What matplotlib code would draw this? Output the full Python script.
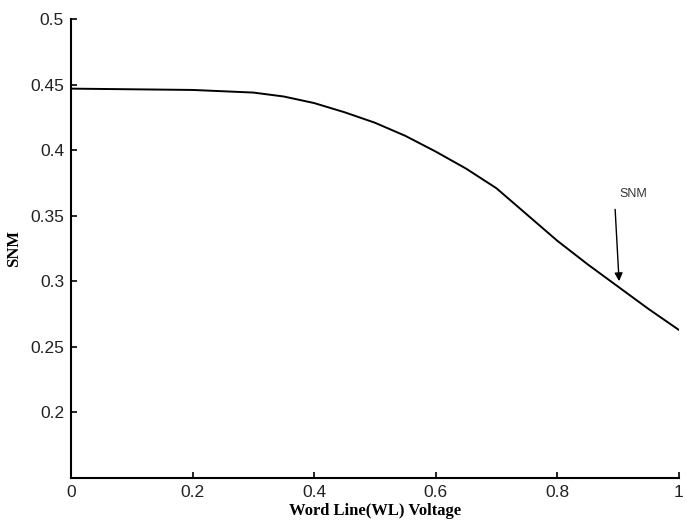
import matplotlib
matplotlib.use("Agg")
import matplotlib.pyplot as plt

# values
wl_voltage = [0.0, 0.1, 0.2, 0.3, 0.35, 0.4, 0.45, 0.5, 0.55, 0.6, 0.65, 0.7, 0.75, 0.8, 0.85, 0.9, 0.95, 1.0]
snm = [0.447, 0.4465, 0.446, 0.444, 0.441, 0.436, 0.429, 0.421, 0.411, 0.399, 0.386, 0.371,
       0.351, 0.331, 0.313, 0.296, 0.279, 0.263]

x_ticks = [0, 0.2, 0.4, 0.6, 0.8, 1.0]
x_tick_labels = ["0", "0.2", "0.4", "0.6", "0.8", "1"]
y_ticks = [0.2, 0.25, 0.3, 0.35, 0.4, 0.45, 0.5]
y_tick_labels = ["0.2", "0.25", "0.3", "0.35", "0.4", "0.45", "0.5"]

fig = plt.figure(figsize=(6.86, 5.32), dpi=100)
ax = fig.add_axes([0.1035, 0.1015, 0.886, 0.8625])

ax.plot(wl_voltage, snm, color="black", linewidth=1.4)

ax.set_xlim(0, 1)
ax.set_ylim(0.15, 0.5)
ax.set_xticks(x_ticks)
ax.set_xticklabels(x_tick_labels, family="Liberation Sans", fontsize=12.5, color="#222222")
ax.set_yticks(y_ticks)
ax.set_yticklabels(y_tick_labels, family="Liberation Sans", fontsize=12.5, color="#222222")
ax.tick_params(direction="in", length=4, width=1.2, pad=5)

ax.spines["top"].set_visible(False)
ax.spines["right"].set_visible(False)
ax.spines["left"].set_linewidth(1.5)
ax.spines["bottom"].set_linewidth(1.5)

ax.set_xlabel("Word Line(WL) Voltage", family="Liberation Serif", fontweight="bold", fontsize=12, labelpad=2)
ax.set_ylabel("SNM", family="Liberation Serif", fontweight="bold", fontsize=12, labelpad=6)

# label plus nearly vertical arrow pointing at the curve
ax.text(0.925, 0.362, "SNM", fontsize=9, family="Liberation Sans", color="#333333", ha="center", va="bottom")
ax.annotate("", xy=(0.902, 0.298), xytext=(0.895, 0.357),
            arrowprops=dict(arrowstyle="-|>", color="black", lw=1.0, mutation_scale=12))

fig.savefig("out.png", dpi=100)
